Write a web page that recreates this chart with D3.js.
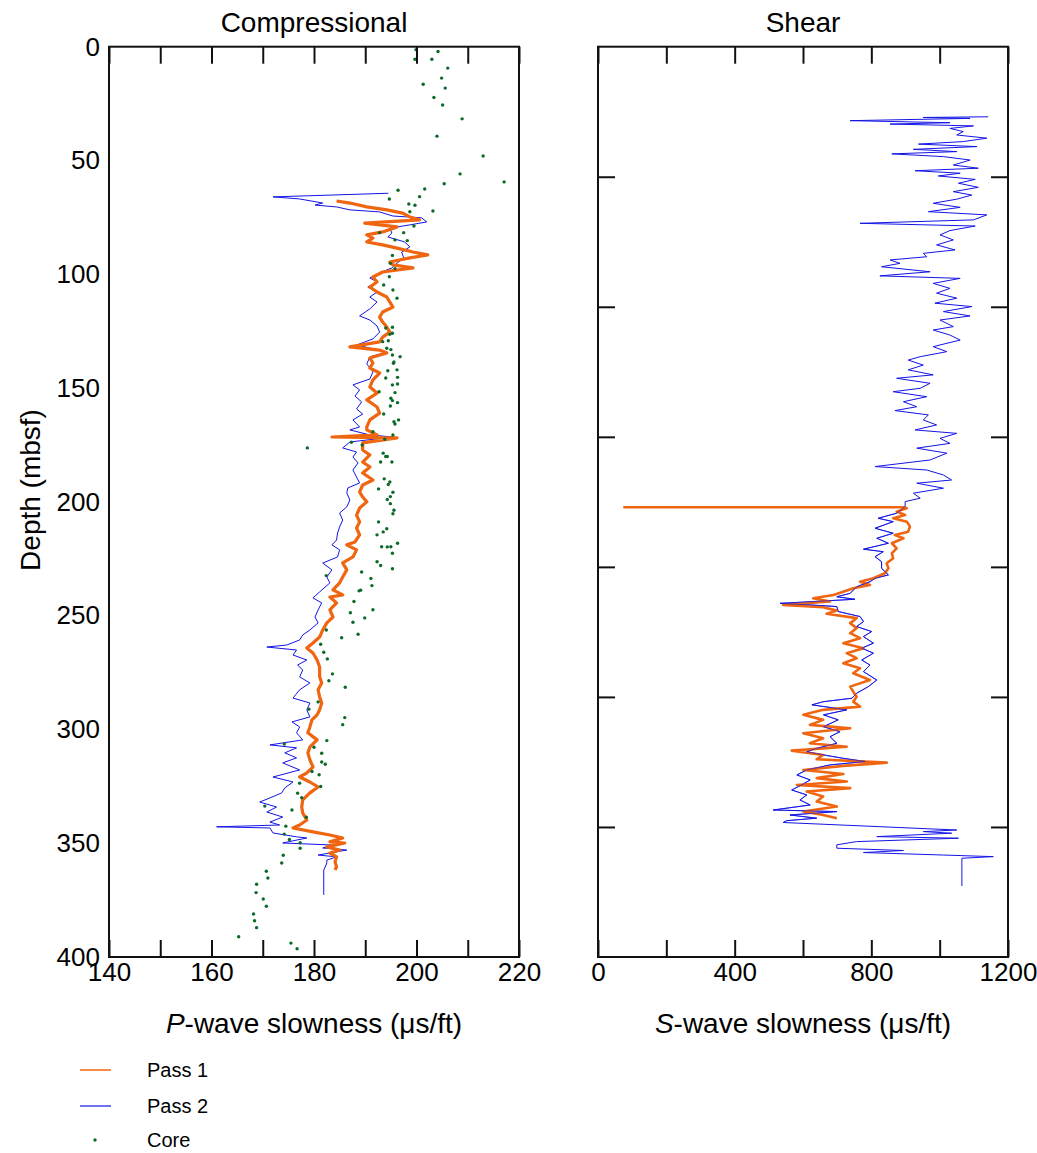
<!DOCTYPE html>
<html>
<head>
<meta charset="utf-8">
<script src="https://cdn.jsdelivr.net/npm/d3@7"></script>
<style>
  body { margin: 0; background: #fff; }
  svg { font-family: "Liberation Sans", Arial, sans-serif; }
</style>
</head>
<body>
<div id="chart"></div>
<script>
// depth (mbsf), slowness (us/ft) pairs
var compPass1 = [[67.8,184.4],[68.7,187.0],[70.4,190.3],[71.7,194.2],[73.1,197.3],[74.8,198.7],[76.1,200.6],[77.5,189.9],[79.2,196.2],[81.4,193.4],[82.7,190.3],[84.1,191.5],[85.8,190.3],[87.1,193.4],[88.5,196.2],[90.2,199.3],[91.5,202.2],[92.8,198.7],[94.6,194.8],[95.9,195.4],[97.2,199.3],[99.0,193.4],[101.2,191.5],[103.4,192.3],[105.6,190.9],[107.8,192.3],[110.0,194.2],[112.2,194.8],[114.4,195.4],[116.6,193.4],[118.8,192.8],[121.0,193.4],[123.2,194.2],[125.4,194.8],[127.6,193.4],[129.7,192.8],[131.9,187.0],[133.3,192.8],[134.6,194.2],[136.8,190.9],[139.0,191.5],[141.2,190.9],[143.4,192.8],[146.4,191.5],[149.5,190.9],[152.2,192.3],[155.2,190.3],[158.3,192.3],[161.0,192.8],[164.0,190.9],[167.1,190.3],[168.4,190.3],[170.6,192.3],[171.5,183.5],[171.9,196.2],[174.1,189.5],[177.2,189.5],[179.4,190.9],[182.5,189.5],[184.7,190.9],[187.3,189.5],[190.4,191.5],[192.6,189.5],[195.6,188.9],[197.9,189.5],[200.0,190.3],[202.7,188.9],[205.8,188.3],[208.8,188.9],[211.5,188.3],[214.5,188.9],[217.6,188.0],[218.9,186.4],[221.1,188.3],[224.2,187.6],[226.8,185.6],[229.9,186.4],[233.0,185.6],[235.6,185.0],[238.7,183.7],[240.9,185.6],[241.8,183.1],[244.4,184.4],[247.5,183.1],[250.6,183.7],[253.2,182.5],[256.3,181.7],[259.4,181.1],[262.0,179.8],[264.2,178.6],[266.4,179.8],[269.5,180.6],[272.6,181.1],[275.2,181.1],[276.9,181.1],[279.6,181.5],[282.6,180.8],[285.7,181.1],[288.4,181.5],[291.4,181.1],[293.6,180.6],[295.8,179.6],[298.9,179.2],[301.5,178.8],[304.6,180.6],[307.7,179.2],[310.3,178.8],[313.4,179.2],[316.5,179.8],[319.1,178.6],[320.9,177.2],[323.1,179.2],[325.3,180.8],[327.9,179.2],[331.0,177.8],[334.1,177.6],[336.7,177.8],[339.8,178.6],[342.0,177.2],[343.3,175.9],[345.0,179.8],[346.4,183.1],[347.7,185.6],[349.4,183.1],[349.9,186.0],[351.6,182.5],[353.0,185.0],[354.3,183.1],[356.0,184.4],[358.2,184.1],[360.4,184.4],[361.8,184.1]];

var compPass2 = [[64.4,194.5],[66.0,172.0],[66.9,177.2],[68.7,181.7],[69.6,180.2],[70.4,184.4],[71.7,187.0],[72.6,192.8],[74.4,195.4],[75.2,201.0],[77.0,202.0],[78.3,198.7],[79.7,194.8],[81.9,195.2],[83.6,194.4],[85.8,197.7],[88.0,198.7],[90.2,197.1],[92.8,197.5],[95.5,196.0],[97.2,195.2],[99.4,192.8],[101.6,190.9],[103.4,192.3],[105.6,190.5],[107.8,192.3],[110.0,190.9],[112.2,192.3],[115.2,190.9],[118.3,188.9],[120.1,190.9],[122.7,192.3],[125.4,192.8],[128.4,191.5],[131.1,188.3],[132.4,190.9],[134.1,194.2],[136.3,190.9],[139.4,190.3],[142.9,191.5],[146.0,190.9],[148.6,187.6],[150.8,188.9],[153.5,188.0],[156.1,189.3],[159.2,188.3],[161.4,189.5],[164.0,187.6],[167.1,188.9],[168.4,187.0],[170.6,190.9],[171.5,195.4],[173.7,187.0],[176.3,185.6],[178.1,188.3],[180.3,187.6],[182.9,188.6],[186.0,187.6],[189.1,188.3],[191.7,188.9],[193.9,186.6],[196.1,186.4],[199.2,187.0],[202.2,186.4],[204.9,185.0],[208.0,185.6],[211.0,185.0],[213.7,184.6],[216.8,184.4],[218.9,183.5],[221.1,185.0],[224.2,184.6],[226.9,181.7],[229.9,183.5],[233.0,182.5],[235.6,183.1],[239.6,181.1],[242.2,179.8],[244.4,181.5],[247.5,180.8],[250.6,180.2],[253.2,180.8],[256.3,179.2],[258.5,177.8],[260.7,177.2],[262.9,174.7],[263.8,170.8],[265.1,176.6],[267.3,175.9],[269.5,178.6],[271.7,176.8],[273.9,177.8],[276.9,177.2],[279.6,179.2],[282.6,177.2],[286.2,175.9],[288.4,179.2],[291.4,178.6],[294.5,179.2],[296.7,175.7],[298.9,177.2],[301.5,176.6],[304.6,177.8],[306.8,171.4],[308.1,176.6],[310.3,174.3],[312.5,176.6],[314.7,173.9],[317.8,177.2],[320.9,172.0],[323.1,175.9],[325.7,174.3],[327.9,173.7],[330.1,171.4],[331.9,169.4],[334.1,172.7],[336.3,170.8],[338.5,173.9],[340.7,171.4],[342.0,173.3],[342.8,161.0],[343.3,171.4],[345.5,172.0],[347.2,176.6],[347.7,178.6],[349.9,173.9],[350.8,183.7],[352.1,181.7],[353.0,186.4],[355.2,180.8],[356.0,184.4],[357.4,182.5],[358.7,182.5],[360.9,182.1],[361.8,181.9],[372.7,181.9]];

var coreP = [[1.3,199.9],[2.1,204.2],[5.5,199.7],[5.5,203.0],[9.4,206.1],[13.8,204.9],[16.5,201.3],[18.2,205.6],[22.3,203.4],[25.6,205.1],[31.7,208.9],[39.3,204.0],[48.0,213.0],[55.9,208.5],[59.4,217.1],[60.2,205.4],[62.5,201.6],[63.1,196.4],[65.9,200.6],[66.9,194.7],[69.1,198.5],[69.7,199.7],[72.5,198.7],[72.2,203.2],[78.8,199.5],[81.7,192.8],[81.7,197.5],[84.9,195.8],[85.2,198.2],[91.7,195.3],[95.2,194.9],[97.5,195.8],[101.1,194.7],[104.7,193.6],[106.9,195.4],[110.5,196.2],[123.6,194.0],[123.3,195.3],[126.4,194.8],[125.9,195.3],[129.6,193.4],[129.2,194.5],[132.5,194.2],[133.1,195.0],[135.5,195.3],[136.2,196.8],[139.1,195.5],[138.5,195.6],[142.4,194.4],[142.0,196.2],[145.6,194.0],[145.3,196.3],[148.2,196.3],[148.6,195.3],[151.6,192.7],[152.0,195.8],[154.5,195.0],[155.5,195.3],[156.4,196.3],[157.9,194.9],[161.4,193.6],[164.8,195.6],[164.0,196.5],[165.8,195.8],[169.2,191.5],[170.6,195.4],[172.5,193.8],[173.8,187.3],[175.0,189.4],[176.3,178.7],[178.6,193.5],[180.1,194.0],[180.1,194.3],[182.5,193.0],[182.5,195.2],[189.9,193.7],[191.3,194.8],[192.4,194.5],[194.3,192.6],[195.8,195.4],[197.7,194.9],[199.0,194.3],[200.8,194.9],[203.7,195.6],[205.2,195.4],[208.8,192.6],[211.8,194.2],[213.2,193.5],[214.5,192.3],[218.2,196.3],[219.7,193.2],[219.8,194.3],[219.7,195.0],[222.6,195.3],[226.3,192.3],[228.0,193.0],[229.4,195.3],[230.8,189.3],[232.4,182.4],[233.7,191.1],[236.8,191.3],[238.8,189.1],[239.1,188.8],[243.8,187.8],[247.4,191.5],[248.7,187.1],[251.0,189.9],[252.9,187.6],[256.3,182.4],[258.2,188.6],[259.7,185.4],[262.6,181.3],[266.1,181.9],[269.0,182.6],[275.6,183.6],[278.6,182.9],[281.5,186.1],[287.9,180.8],[291.1,179.0],[294.8,186.0],[297.9,185.6],[304.9,182.5],[306.4,174.2],[307.8,180.0],[310.5,181.5],[314.3,181.5],[315.3,182.2],[318.5,179.6],[319.9,181.0],[323.6,177.2],[325.1,181.3],[328.0,176.8],[330.0,177.6],[333.7,170.4],[335.4,175.7],[338.6,178.5],[342.5,174.5],[346.0,174.2],[348.4,175.2],[349.8,177.3],[352.2,177.3],[355.3,174.0],[358.7,173.7],[362.3,170.7],[365.3,171.0],[368.0,168.8],[371.7,168.7],[374.5,170.1],[377.7,170.7],[381.1,168.2],[384.1,168.4],[387.1,168.8],[391.1,165.3],[393.9,175.5],[396.4,176.7]];

var shearPass1 = [[202.4,74],[202.4,894],[202.8,904],[204.3,874],[205.8,899],[207.2,864],[208.7,904],[210.9,913],[213.1,908],[214.6,869],[216.0,894],[218.2,860],[220.4,874],[222.6,860],[224.8,864],[227.0,845],[229.2,850],[231.4,840],[233.6,806],[235.1,767],[236.5,796],[238.0,747],[239.5,718],[240.9,689],[242.4,630],[243.8,679],[245.3,542],[246.3,659],[247.8,699],[249.2,669],[251.1,757],[253.3,738],[255.5,757],[257.7,738],[259.9,767],[262.1,718],[264.3,777],[266.5,728],[268.7,757],[270.9,718],[273.1,767],[275.3,747],[278.3,796],[281.2,738],[283.4,747],[285.6,757],[287.8,747],[290.0,767],[291.4,659],[293.6,601],[295.8,659],[298.0,620],[299.5,738],[301.7,601],[303.9,659],[306.1,620],[307.6,728],[309.3,567],[311.2,659],[313.1,640],[314.6,845],[316.0,718],[317.8,601],[319.6,718],[321.4,640],[322.9,728],[324.4,582],[325.8,738],[327.3,611],[329.5,659],[331.7,640],[333.9,699],[336.1,601],[337.6,659],[339.0,699]];

var shearPass2 = [[30.8,1142],[31.1,952],[31.5,1089],[32.5,738],[33.4,1030],[34.0,855],[34.8,1099],[35.9,1030],[37.3,1069],[38.8,1050],[40.2,1138],[41.7,1069],[42.8,938],[43.9,1109],[45.1,923],[46.1,1050],[47.1,860],[48.3,1011],[49.8,1089],[52.0,1040],[53.4,1113],[54.5,928],[55.6,1060],[56.8,996],[58.3,1104],[60.0,1055],[61.8,1113],[63.7,1040],[65.2,1094],[67.0,1050],[68.8,981],[70.6,1060],[72.5,967],[73.9,1138],[76.1,1099],[77.6,767],[78.8,1104],[80.8,1030],[82.7,1001],[84.9,1040],[87.1,991],[89.3,1045],[90.8,952],[92.3,962],[93.7,855],[95.2,884],[96.7,830],[98.9,972],[100.7,825],[101.8,1060],[104.0,981],[106.2,1030],[108.3,991],[110.5,1050],[112.7,986],[114.2,1094],[116.4,1011],[118.3,1089],[120.1,1001],[123.0,1040],[124.5,981],[126.7,1030],[128.9,1060],[131.8,981],[134.0,1021],[136.2,943],[137.7,908],[139.9,952],[142.0,908],[144.2,981],[145.7,874],[147.9,972],[150.1,943],[151.6,864],[153.8,962],[156.0,894],[158.2,933],[159.9,869],[161.8,967],[164.0,952],[166.2,991],[168.4,928],[169.9,1050],[172.1,1001],[174.3,1030],[176.4,933],[178.6,1021],[181.6,972],[184.5,811],[186.0,962],[188.2,1011],[190.4,1035],[191.8,933],[194.0,1011],[196.2,923],[198.4,943],[199.9,899],[202.1,899],[205.0,874],[207.2,820],[208.7,864],[211.6,811],[213.8,864],[216.0,816],[218.2,850],[220.8,777],[221.9,835],[224.1,811],[226.3,830],[229.2,830],[232.1,850],[233.6,811],[235.1,796],[237.3,757],[240.2,738],[241.7,699],[242.8,752],[244.6,533],[245.3,621],[246.0,699],[248.2,703],[250.4,767],[252.6,777],[254.8,757],[257.0,801],[259.2,777],[262.1,806],[264.3,772],[266.5,806],[269.5,772],[271.7,796],[274.6,777],[278.3,816],[281.2,791],[284.1,757],[286.3,743],[287.8,660],[289.2,626],[291.4,728],[293.6,660],[295.8,703],[298.8,660],[301.0,708],[303.2,679],[306.1,699],[308.3,640],[309.8,611],[311.2,660],[312.7,718],[314.1,782],[315.6,679],[317.8,611],[320.0,582],[322.2,621],[324.4,596],[326.6,567],[328.8,611],[331.0,591],[333.2,621],[335.4,513],[336.1,699],[337.6,562],[339.0,640],[340.1,552],[340.9,542],[344.2,1050],[344.9,952],[345.6,1035],[347.1,816],[347.8,1055],[349.3,757],[350.7,699],[352.2,699],[353.2,894],[354.1,777],[355.2,1011],[355.9,1157],[356.6,1065],[368.8,1065]];

var depthTicks = [0, 50, 100, 150, 200, 250, 300, 350, 400];
var pTicks = [140, 150, 160, 170, 180, 190, 200, 210, 220];
var pLabels = [140, 160, 180, 200, 220];
var sTicks = [0, 200, 400, 600, 800, 1000, 1200];
var sLabels = [0, 400, 800, 1200];
var shearDepthTicks = d3.range(1, 7).map(function(k){ return k * 400 / 7; });

var W = 1037, H = 1153;
var plotTop = 46.7, plotBottom = 957;
var pLeft = 109, pRight = 519, sLeft = 598, sRight = 1008;
var tickLen = 17;

var orange = "#f0650f", blue = "#1414e6", green = "#0b6a2a";

var svg = d3.select("#chart").append("svg").attr("width", W).attr("height", H);

var yScale = d3.scaleLinear().domain([0, 400]).range([plotTop, plotBottom]);
var xP = d3.scaleLinear().domain([140, 220]).range([pLeft, pRight]);
var xS = d3.scaleLinear().domain([0, 1200]).range([sLeft, sRight]);

// clip both panels so nothing spills over the frame
var defs = svg.append("defs");
defs.append("clipPath").attr("id", "clipP").append("rect")
    .attr("x", pLeft).attr("y", plotTop).attr("width", pRight - pLeft).attr("height", plotBottom - plotTop);
defs.append("clipPath").attr("id", "clipS").append("rect")
    .attr("x", sLeft).attr("y", plotTop).attr("width", sRight - sLeft).attr("height", plotBottom - plotTop);

function lineFor(x) {
    return d3.line().x(function(d){ return x(d[1]); }).y(function(d){ return yScale(d[0]); });
}

// compressional panel
var gP = svg.append("g").attr("clip-path", "url(#clipP)");
gP.append("path").datum(compPass2).attr("d", lineFor(xP))
    .attr("fill", "none").attr("stroke", blue).attr("stroke-width", 1);
gP.append("path").datum(compPass1).attr("d", lineFor(xP))
    .attr("fill", "none").attr("stroke", orange).attr("stroke-width", 3.2).attr("stroke-linejoin", "round");
gP.selectAll("circle").data(coreP).enter().append("circle")
    .attr("cx", function(d){ return xP(d[1]); })
    .attr("cy", function(d){ return yScale(d[0]); })
    .attr("r", 1.7).attr("fill", green);

// shear panel
var gS = svg.append("g").attr("clip-path", "url(#clipS)");
gS.append("path").datum(shearPass2).attr("d", lineFor(xS))
    .attr("fill", "none").attr("stroke", blue).attr("stroke-width", 1);
gS.append("path").datum(shearPass1).attr("d", lineFor(xS))
    .attr("fill", "none").attr("stroke", orange).attr("stroke-width", 2.6).attr("stroke-linejoin", "round");
// pass 2 drawn again thin on top where the two overlap, like the original
gS.append("path").datum(shearPass2.filter(function(d){ return d[0] > 200 && d[0] < 342; })).attr("d", lineFor(xS))
    .attr("fill", "none").attr("stroke", blue).attr("stroke-width", 0.8).attr("opacity", 0.8);

// axes: ticks point inwards, frame drawn as a rect
function styleAxis(g) {
    g.select(".domain").remove();
    g.selectAll(".tick line").attr("stroke", "#111").attr("stroke-width", 2);
    g.selectAll(".tick text").attr("fill", "#000").style("font-size", "26px")
        .style("font-family", "'Liberation Sans', Arial, sans-serif");
}

svg.append("g").attr("transform", "translate(0," + plotBottom + ")")
    .call(d3.axisBottom(xP).tickValues(pTicks).tickSizeInner(-tickLen).tickSizeOuter(0).tickPadding(6)
        .tickFormat(function(d){ return pLabels.indexOf(d) >= 0 ? d : ""; }))
    .call(styleAxis);
svg.append("g").attr("transform", "translate(0," + plotTop + ")")
    .call(d3.axisTop(xP).tickValues(pTicks).tickSizeInner(-tickLen).tickSizeOuter(0).tickFormat(""))
    .call(styleAxis);
svg.append("g").attr("transform", "translate(" + pLeft + ",0)")
    .call(d3.axisLeft(yScale).tickValues(depthTicks).tickSize(0).tickPadding(9))
    .call(styleAxis);

svg.append("g").attr("transform", "translate(0," + plotBottom + ")")
    .call(d3.axisBottom(xS).tickValues(sTicks).tickSizeInner(-tickLen).tickSizeOuter(0).tickPadding(6)
        .tickFormat(function(d){ return sLabels.indexOf(d) >= 0 ? d : ""; }))
    .call(styleAxis);
svg.append("g").attr("transform", "translate(0," + plotTop + ")")
    .call(d3.axisTop(xS).tickValues(sTicks).tickSizeInner(-tickLen).tickSizeOuter(0).tickFormat(""))
    .call(styleAxis);
svg.append("g").attr("transform", "translate(" + sLeft + ",0)")
    .call(d3.axisLeft(yScale).tickValues(shearDepthTicks).tickSizeInner(-tickLen).tickSizeOuter(0).tickFormat(""))
    .call(styleAxis);
svg.append("g").attr("transform", "translate(" + sRight + ",0)")
    .call(d3.axisRight(yScale).tickValues(shearDepthTicks).tickSizeInner(-tickLen).tickSizeOuter(0).tickFormat(""))
    .call(styleAxis);

[[pLeft, pRight], [sLeft, sRight]].forEach(function(p){
    svg.append("rect").attr("x", p[0]).attr("y", plotTop).attr("width", p[1] - p[0]).attr("height", plotBottom - plotTop)
        .attr("fill", "none").attr("stroke", "#111").attr("stroke-width", 2);
});

// titles and axis labels
svg.append("text").attr("x", (pLeft + pRight) / 2).attr("y", 32).attr("text-anchor", "middle")
    .style("font-size", "28px").text("Compressional");
svg.append("text").attr("x", (sLeft + sRight) / 2).attr("y", 32).attr("text-anchor", "middle")
    .style("font-size", "28px").text("Shear");

var xl1 = svg.append("text").attr("x", (pLeft + pRight) / 2).attr("y", 1033).attr("text-anchor", "middle").style("font-size", "28px");
xl1.append("tspan").style("font-style", "italic").text("P");
xl1.append("tspan").text("-wave slowness (\u03bcs/ft)");
var xl2 = svg.append("text").attr("x", (sLeft + sRight) / 2).attr("y", 1033).attr("text-anchor", "middle").style("font-size", "28px");
xl2.append("tspan").style("font-style", "italic").text("S");
xl2.append("tspan").text("-wave slowness (\u03bcs/ft)");

svg.append("text").attr("transform", "translate(40,490) rotate(-90)").attr("text-anchor", "middle")
    .style("font-size", "28px").text("Depth (mbsf)");

// legend
var legend = [["Pass 1", orange, "line"], ["Pass 2", blue, "line"], ["Core", green, "dot"]];
var legY = [1070, 1106, 1140];
legend.forEach(function(item, i){
    var g = svg.append("g").attr("transform", "translate(0," + legY[i] + ")");
    if (item[2] === "line") {
        g.append("line").attr("x1", 80).attr("x2", 111).attr("y1", 0).attr("y2", 0)
            .attr("stroke", item[1]).attr("stroke-width", i === 0 ? 1.5 : 1.2);
    } else {
        g.append("circle").attr("cx", 95).attr("cy", 0).attr("r", 1.7).attr("fill", item[1]);
    }
    g.append("text").attr("x", 147).attr("y", 7).style("font-size", "20px").text(item[0]);
});
</script>
</body>
</html>
